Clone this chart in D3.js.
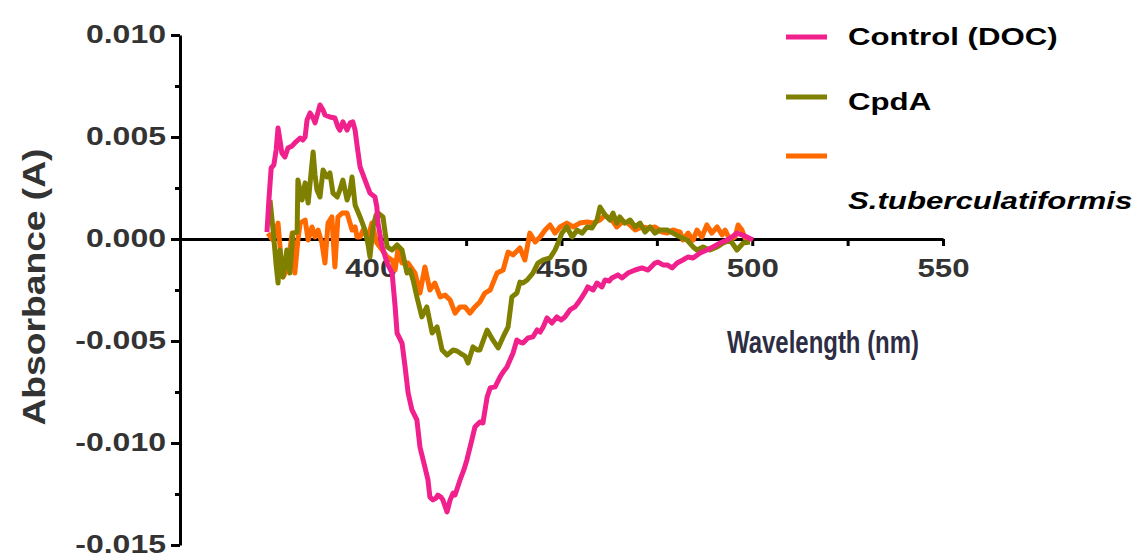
<!DOCTYPE html>
<html lang="en">
<head>
  <meta charset="UTF-8">
  <title>Difference spectra</title>
  <style>
    body {
      margin: 0;
      overflow: hidden;
      background: #fff;
    }
    svg {
      display: block;
    }
    text {
      font-family: Arial, "Liberation Sans", sans-serif;
      font-weight: bold;
    }
    .series {
      fill: none;
      stroke-width: 5px;
      stroke-linejoin: round;
    }
  </style>
</head>
<body>
  <svg width="1144" height="557"></svg>
  <script src="https://cdn.jsdelivr.net/npm/d3@7"></script>
  <script>
    // wavelength (nm) and absorbance (A)
    const controlWl = [372.8, 373.3, 373.9, 374.6, 375.2, 375.7, 376.2, 376.7, 377.5, 378.3, 379.4, 380.1, 381.5, 382.2, 382.8, 383.3, 384.1, 384.9, 385.4, 386.2, 386.7, 387.5, 388.0, 389.3, 390.6, 391.4, 391.9, 392.7, 393.8, 394.6, 395.3, 395.9, 396.4, 397.2, 398.0, 398.5, 399.8, 401.1, 401.6, 401.9, 403.0, 404.3, 405.6, 406.4, 406.9, 408.2, 409.0, 409.8, 410.8, 412.1, 412.9, 414.2, 415.0, 415.5, 416.3, 417.1, 417.6, 418.4, 418.9, 420.0, 420.8, 421.6, 422.1, 423.4, 424.4, 425.2, 426.5, 427.3, 428.6, 429.4, 430.5, 431.3, 432.6, 433.9, 434.7, 435.7, 436.5, 437.3, 438.3, 439.1, 439.9, 441.2, 442.5, 443.6, 444.4, 445.2, 446.2, 447.5, 448.8, 449.9, 450.9, 452.2, 453.5, 454.3, 455.4, 456.2, 456.9, 458.3, 459.3, 460.6, 461.4, 462.5, 463.2, 464.8, 465.9, 467.4, 469.3, 471.1, 472.7, 474.5, 475.3, 476.6, 477.7, 479.0, 480.3, 481.8, 483.2, 484.5, 486.3, 488.1, 489.7, 491.5, 493.4, 494.7, 496.0, 497.3, 498.6, 500.2];
    const controlAbs = [0.00034, 0.00191, 0.00348, 0.00363, 0.00436, 0.00544, 0.00485, 0.00422, 0.00402, 0.00446, 0.00456, 0.00471, 0.00495, 0.00485, 0.00500, 0.00583, 0.00618, 0.00593, 0.00569, 0.00623, 0.00657, 0.00632, 0.00608, 0.00598, 0.00593, 0.00549, 0.00534, 0.00574, 0.00534, 0.00569, 0.00574, 0.00534, 0.00461, 0.00353, 0.00314, 0.00289, 0.00225, 0.00206, 0.00157, 0.00078, -0.00039, -0.00118, -0.00167, -0.00333, -0.00461, -0.00510, -0.00627, -0.00755, -0.00838, -0.00887, -0.01020, -0.01118, -0.01181, -0.01265, -0.01279, -0.01270, -0.01255, -0.01265, -0.01279, -0.01338, -0.01279, -0.01245, -0.01255, -0.01181, -0.01132, -0.01083, -0.00985, -0.00922, -0.00897, -0.00902, -0.00775, -0.00730, -0.00725, -0.00676, -0.00652, -0.00627, -0.00593, -0.00559, -0.00495, -0.00505, -0.00510, -0.00485, -0.00480, -0.00446, -0.00456, -0.00431, -0.00387, -0.00412, -0.00382, -0.00397, -0.00382, -0.00348, -0.00333, -0.00314, -0.00284, -0.00260, -0.00235, -0.00250, -0.00216, -0.00235, -0.00201, -0.00206, -0.00191, -0.00176, -0.00191, -0.00167, -0.00152, -0.00142, -0.00152, -0.00118, -0.00113, -0.00127, -0.00127, -0.00142, -0.00118, -0.00103, -0.00088, -0.00093, -0.00069, -0.00054, -0.00039, -0.00020, -0.00005, 0.00010, 0.00029, 0.00020, 0.00010, -0.00005];

    const cpdaWl = [373.6, 374.4, 375.2, 375.7, 376.2, 377.0, 378.0, 378.8, 379.6, 380.7, 380.9, 382.0, 382.8, 383.6, 384.3, 384.9, 385.4, 385.9, 386.7, 387.5, 388.5, 389.3, 390.1, 391.2, 391.9, 392.7, 393.8, 394.6, 395.1, 395.9, 397.2, 398.5, 399.3, 399.8, 400.6, 401.4, 401.9, 403.2, 404.3, 405.6, 406.9, 408.2, 409.5, 410.3, 411.1, 412.1, 413.4, 414.7, 416.1, 417.4, 418.7, 420.0, 421.6, 422.6, 423.4, 424.7, 425.5, 426.8, 427.9, 428.6, 430.5, 432.0, 433.4, 434.7, 436.0, 437.0, 438.3, 439.1, 439.9, 441.0, 442.5, 443.8, 445.2, 447.0, 448.3, 449.1, 450.1, 451.4, 452.8, 454.1, 455.4, 456.7, 458.0, 459.3, 460.1, 461.4, 462.7, 463.5, 464.5, 465.3, 466.6, 468.0, 469.3, 470.6, 471.9, 473.2, 474.5, 475.8, 477.7, 479.2, 481.1, 482.9, 484.5, 485.5, 487.1, 488.9, 490.8, 492.3, 494.2, 496.0, 497.6, 499.4];
    const cpdaAbs = [0.00191, 0.00044, -0.00127, -0.00216, -0.00054, -0.00186, -0.00054, -0.00167, 0.00029, 0.00034, 0.00289, 0.00191, 0.00275, 0.00176, 0.00314, 0.00426, 0.00314, 0.00240, 0.00206, 0.00338, 0.00304, 0.00324, 0.00225, 0.00206, 0.00240, 0.00289, 0.00191, 0.00240, 0.00304, 0.00167, 0.00108, 0.00044, -0.00029, -0.00088, 0.00059, 0.00118, 0.00127, 0.00108, -0.00039, -0.00054, -0.00029, -0.00054, -0.00167, -0.00152, -0.00201, -0.00284, -0.00382, -0.00333, -0.00461, -0.00431, -0.00544, -0.00569, -0.00544, -0.00549, -0.00559, -0.00574, -0.00608, -0.00529, -0.00544, -0.00544, -0.00446, -0.00495, -0.00534, -0.00480, -0.00431, -0.00284, -0.00265, -0.00211, -0.00216, -0.00201, -0.00167, -0.00118, -0.00103, -0.00093, -0.00054, -0.00020, 0.00029, 0.00059, 0.00010, 0.00044, 0.00029, 0.00059, 0.00054, 0.00093, 0.00157, 0.00118, 0.00093, 0.00127, 0.00078, 0.00108, 0.00078, 0.00093, 0.00059, 0.00078, 0.00034, 0.00059, 0.00029, 0.00044, 0.00044, 0.00029, 0.00010, -0.00005, -0.00039, -0.00054, -0.00039, -0.00054, -0.00039, -0.00020, -0.00005, -0.00054, -0.00020, -0.00015];

    const stubWl = [373.1, 373.9, 374.4, 375.2, 375.7, 376.5, 377.0, 378.0, 378.8, 379.4, 380.1, 380.9, 381.5, 382.8, 383.6, 384.6, 385.4, 386.2, 387.2, 388.0, 388.8, 389.8, 390.6, 391.4, 392.5, 393.8, 395.1, 395.9, 396.4, 397.2, 398.0, 399.3, 400.3, 401.6, 403.0, 404.3, 405.6, 406.4, 407.1, 408.2, 409.8, 411.6, 412.9, 414.2, 415.5, 416.8, 418.2, 419.5, 420.8, 422.1, 423.4, 424.7, 426.0, 427.3, 428.6, 429.9, 431.3, 433.1, 434.7, 436.0, 437.3, 439.1, 440.4, 441.7, 443.1, 444.4, 445.7, 447.0, 448.3, 449.6, 451.4, 453.0, 454.8, 456.7, 458.3, 460.1, 461.4, 463.2, 464.5, 465.9, 467.4, 469.3, 471.1, 472.7, 474.5, 476.3, 477.7, 479.2, 481.1, 481.8, 483.2, 484.5, 485.5, 486.8, 488.1, 489.4, 490.8, 492.1, 492.9, 494.2, 495.5, 496.3, 497.3, 498.1, 498.9];
    const stubAbs = [0.00029, 0.00005, -0.00005, 0.00044, 0.00078, -0.00103, -0.00186, -0.00152, -0.00054, 0.00029, -0.00167, -0.00005, 0.00078, 0.00093, -0.00005, 0.00059, 0.00010, 0.00044, -0.00020, -0.00118, 0.00078, 0.00108, -0.00137, 0.00108, 0.00127, 0.00127, 0.00044, 0.00059, 0.00010, 0.00010, 0.00044, 0.00005, 0.00078, -0.00020, -0.00054, -0.00088, -0.00103, -0.00152, -0.00054, -0.00118, -0.00118, -0.00167, -0.00265, -0.00137, -0.00250, -0.00216, -0.00284, -0.00275, -0.00299, -0.00363, -0.00333, -0.00333, -0.00363, -0.00333, -0.00309, -0.00265, -0.00250, -0.00167, -0.00152, -0.00064, -0.00078, -0.00044, -0.00103, 0.00029, -0.00015, 0.00010, 0.00044, 0.00069, 0.00029, 0.00059, 0.00078, 0.00059, 0.00078, 0.00083, 0.00078, 0.00093, 0.00118, 0.00093, 0.00059, 0.00083, 0.00078, 0.00044, 0.00059, 0.00054, 0.00059, 0.00034, 0.00029, 0.00044, 0.00034, -0.00005, 0.00029, -0.00005, 0.00044, 0.00010, 0.00069, 0.00029, 0.00059, 0.00020, 0.00044, -0.00005, 0.00010, 0.00069, 0.00044, 0.00005, 0.00010];

    const seriesNames = ["Control (DOC)", "CpdA", "S.tuberculatiformis"];
    const seriesColors = ["#f0208c", "#808000", "#ff6a00"];

    const xMajor = [400, 450, 500, 550];
    const xMinor = [425, 475, 525];
    const yMajor = [0.010, 0.005, 0.000, -0.005, -0.010, -0.015];
    const yMinor = [0.0075, 0.0025, -0.0025, -0.0075, -0.0125];

    const svg = d3.select("svg");
    const stretch = 1.3; // the original figure is widened, text included

    const x = d3.scaleLinear().domain([350, 550]).range([180, 943]);
    const y = d3.scaleLinear().domain([-0.015, 0.010]).range([545, 35]);

    // plain hyphen for negatives, as in the original
    const fmtY = d => d3.format(".3f")(d).replace("\u2212", "-");

    function widen(sel, k) {
      sel.each(function() {
        const len = this.getComputedTextLength();
        d3.select(this).attr("textLength", len * k).attr("lengthAdjust", "spacingAndGlyphs");
      });
    }

    // y axis
    const yAxis = svg.append("g")
      .attr("transform", "translate(" + x(350) + ",0)")
      .call(d3.axisLeft(y).tickValues(yMajor).tickSize(9).tickSizeOuter(0).tickFormat(fmtY));
    svg.append("g")
      .attr("transform", "translate(" + x(350) + ",0)")
      .call(d3.axisLeft(y).tickValues(yMinor).tickSize(5).tickFormat(""))
      .call(g => g.select(".domain").remove());

    // x axis sits on the zero line
    const xAxis = svg.append("g")
      .attr("transform", "translate(0," + y(0) + ")")
      .call(d3.axisBottom(x).tickValues(xMajor).tickSize(7).tickSizeOuter(0));
    svg.append("g")
      .attr("transform", "translate(0," + y(0) + ")")
      .call(d3.axisBottom(x).tickValues(xMinor).tickSize(7).tickFormat(""))
      .call(g => g.select(".domain").remove());

    svg.selectAll(".domain, .tick line")
      .attr("stroke", "#000")
      .attr("stroke-width", 3);

    yAxis.selectAll("text")
      .attr("x", -14)
      .attr("dy", "0.3em")
      .attr("fill", "#333")
      .style("font-size", "25px")
      .style("font-family", "Arial, 'Liberation Sans', sans-serif")
      .style("font-weight", "bold")
      .call(widen, 1.28);

    xAxis.selectAll("text")
      .attr("y", 20)
      .attr("fill", "#333")
      .style("font-size", "26px")
      .style("font-family", "Arial, 'Liberation Sans', sans-serif")
      .style("font-weight", "bold")
      .call(widen, 1.2);

    // axis titles
    svg.append("text")
      .attr("transform", "translate(45,287) rotate(-90)")
      .attr("text-anchor", "middle")
      .attr("fill", "#333")
      .style("font-size", "31px")
      .attr("textLength", 277)
      .attr("lengthAdjust", "spacingAndGlyphs")
      .text("Absorbance  (A)");

    svg.append("text")
      .attr("x", 727)
      .attr("y", 353)
      .attr("fill", "#2d2d44")
      .style("font-size", "32px")
      .attr("textLength", 192)
      .attr("lengthAdjust", "spacingAndGlyphs")
      .text("Wavelength  (nm)");

    // spectra
    const line = d3.line()
      .x(d => x(d[0]))
      .y(d => y(d[1]));

    const series = [
      d3.zip(controlWl, controlAbs),
      d3.zip(cpdaWl, cpdaAbs),
      d3.zip(stubWl, stubAbs)
    ];

    // orange underneath, pink on top
    [2, 1, 0].forEach(i => {
      svg.append("path")
        .datum(series[i])
        .attr("class", "series")
        .attr("stroke", seriesColors[i])
        .attr("d", line);
    });

    // legend
    const legendY = [37, 97, 156];
    const labelY = [45, 110, 209];
    const legend = svg.append("g");
    seriesNames.forEach((name, i) => {
      legend.append("line")
        .attr("x1", 786).attr("x2", 827)
        .attr("y1", legendY[i]).attr("y2", legendY[i])
        .attr("stroke", seriesColors[i])
        .attr("stroke-width", 5);
      legend.append("text")
        .attr("x", 848)
        .attr("y", labelY[i])
        .attr("fill", "#000")
        .style("font-size", "24px")
        .style("font-style", i === 2 ? "italic" : "normal")
        .text(name)
        .call(widen, stretch);
    });
  </script>
</body>
</html>
